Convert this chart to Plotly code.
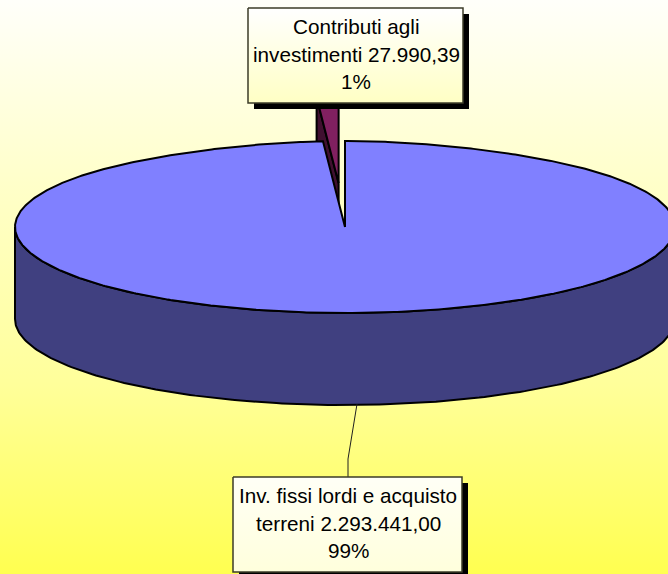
import numpy as np
import plotly.graph_objects as go

# Investment breakdown, in euro
categories = ["Inv. fissi lordi e acquisto terreni", "Contributi agli investimenti"]
amounts = [2293441.00, 27990.39]
label_lines = [
    ["Inv. fissi lordi e acquisto", "terreni {amount}", "{pct}"],
    ["Contributi agli", "investimenti {amount}", "{pct}"],
]

top_colors = ["#8080FF", "#802060"]
wall_colors = ["#404080", "#401030"]
OUTLINE = "#000000"

# Projected pie geometry on a pixel-sized data space
W, H = 668, 574
CX, CY = 345, 227
RX, RY = 330, 86
DEPTH = 92
EXPLODE = 0.51
PERSP = 0.12


def rim(theta_deg, dx=0.0, dy=0.0):
    """Point on the tilted disc; theta runs clockwise from twelve o'clock."""
    t = np.radians(theta_deg)
    scale = 1 - PERSP * np.clip(np.cos(t), 0, 1) ** 6
    return CX + dx + RX * np.sin(t) * scale, CY + dy - RY * np.cos(t)


def euro(v):
    whole, dec = f"{v:,.2f}".split(".")
    return whole.replace(",", ".") + "," + dec


def polygon(xs, ys, color, line_width=2):
    return go.Scatter(
        x=list(xs) + [xs[0]], y=list(ys) + [ys[0]], mode="lines", fill="toself",
        fillcolor=color, line=dict(color=OUTLINE, width=line_width),
        hoverinfo="skip", showlegend=False,
    )


def gradient_rect(x0, y0, x1, y1, stops, line=None):
    return go.Scatter(
        x=[x0, x1, x1, x0, x0], y=[y0, y0, y1, y1, y0], mode="lines", fill="toself",
        fillgradient=dict(type="vertical", colorscale=stops),
        line=line or dict(width=0), hoverinfo="skip", showlegend=False,
    )


total = sum(amounts)
sweep = [v / total * 360 for v in amounts]
pct = [f"{round(v / total * 100)}%" for v in amounts]

fig = go.Figure()

# Page background
fig.add_trace(gradient_rect(0, 0, W, H, [
    [0, "#FFFF50"], [0.33, "#FFFF9A"], [0.67, "#FFFFC8"], [1, "#FFFFFA"],
]))

# Small slice, pulled away from the centre along its mid-angle
start, end = sweep[0], 360.0
mid = np.radians((start + end) / 2)
ox, oy = EXPLODE * RX * np.sin(mid), -EXPLODE * RY * np.cos(mid)
arc = np.linspace(start, end, 12)
ax, ay = rim(arc, ox, oy)
apex = (CX + ox, CY + oy)
ex, ey = rim(np.array([start]), ox, oy)
fig.add_trace(polygon([apex[0], ex[0], ex[0], apex[0]],
                      [apex[1], ey[0], ey[0] + DEPTH, apex[1] + DEPTH], wall_colors[1]))
fig.add_trace(polygon([apex[0], *ax], [apex[1], *ay], top_colors[1]))

# Large slice: outer wall on the near half, then the top face
near = np.linspace(90, 270, 181)
nx, ny = rim(near)
fig.add_trace(polygon(list(nx) + list(nx[::-1]), list(ny) + list(ny[::-1] + DEPTH), wall_colors[0]))
arc = np.linspace(0, sweep[0], 721)
ax, ay = rim(arc)
fig.add_trace(polygon([CX, *ax], [CY, *ay], top_colors[0]))

# Leader line from the wall to the lower label
fig.add_trace(go.Scatter(x=[357, 348, 348], y=[404, 459, 477], mode="lines",
                         line=dict(color="#202020", width=1), hoverinfo="skip", showlegend=False))

# Label boxes with drop shadow
boxes = [(233, 477, 462, 572), (248, 8, 463, 103)]
box_stops = [
    [[0, "#FFFFDC"], [1, "#FFFFF6"]],
    [[0, "#FFFFC4"], [1, "#FFFFFF"]],
]
for (x0, y0, x1, y1), stops in zip(boxes, box_stops):
    fig.add_trace(polygon([x0 + 6, x1 + 6, x1 + 6, x0 + 6],
                          [y0 + 6, y0 + 6, y1 + 6, y1 + 6], "#000000", 0))
    fig.add_trace(gradient_rect(x0, y0, x1, y1, stops, dict(color="#3C3C28", width=1.5)))

annotations = []
for (x0, y0, x1, y1), lines, amount, p in zip(boxes, label_lines, amounts, pct):
    for i, line in enumerate(lines):
        annotations.append(dict(
            x=(x0 + x1) / 2 + 0.5, y=(y0 + y1) / 2 - 1.5 + (i - 1) * 27.5, xref="x", yref="y",
            text=line.format(amount=euro(amount), pct=p), showarrow=False,
            xanchor="center", yanchor="middle",
            font=dict(family="Liberation Sans", size=20.7, color="#000000"),
        ))

fig.update_layout(
    width=W, height=H, margin=dict(l=0, r=0, t=0, b=0), showlegend=False,
    paper_bgcolor="#FFFFFA", plot_bgcolor="rgba(0,0,0,0)", annotations=annotations,
    xaxis=dict(range=[0, W], visible=False, fixedrange=True),
    yaxis=dict(range=[H, 0], visible=False, fixedrange=True),
)
fig.write_html("out.html", config={"displayModeBar": False})
